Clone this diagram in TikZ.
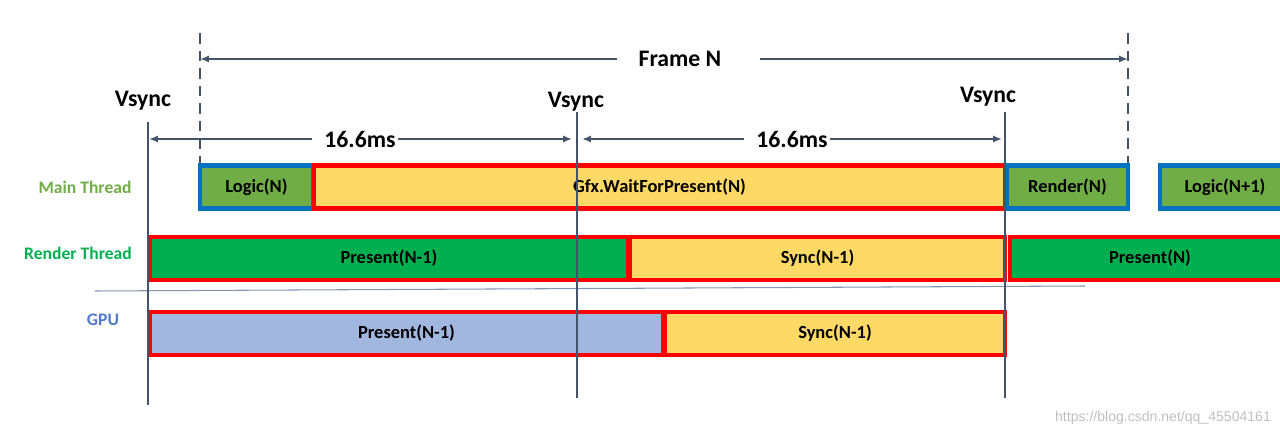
\documentclass[tikz,border=0pt]{standalone}
\usepackage{fontspec}
\setmainfont{Carlito}
\newfontfamily\markfont{Liberation Sans}
\usetikzlibrary{arrows.meta}

\definecolor{mainGreen}{HTML}{70AD47}
\definecolor{renderGreen}{HTML}{00B050}
\definecolor{frameBlue}{HTML}{0070C0}
\definecolor{waitYellow}{HTML}{FFD966}
\definecolor{gpuBlue}{HTML}{A2B7E0}
\definecolor{gpuText}{HTML}{4F7BC8}
\definecolor{lineGray}{HTML}{44546A}
\definecolor{sepGray}{HTML}{8497B0}

\begin{document}
\begin{tikzpicture}[
    x=0.02cm, y=-0.02cm,
    task/.style={rectangle, draw, line width=2.3pt, minimum height=0.86cm, inner sep=0pt, font=\fontsize{10.5}{12}\selectfont\bfseries},
    logic/.style={task, fill=mainGreen, draw=frameBlue},
    wait/.style={task, fill=waitYellow, draw=red},
    present/.style={task, fill=renderGreen, draw=red},
    gpu/.style={task, fill=gpuBlue, draw=red},
    rowlabel/.style={font=\fontsize{10}{12}\selectfont\bfseries},
    bigtext/.style={font=\fontsize{13.5}{16}\selectfont\bfseries, inner sep=1pt},
    tick/.style={draw=lineGray, line width=1.2pt},
    frameline/.style={draw=lineGray, line width=1.2pt, dashed, dash pattern=on 6pt off 4pt},
    dim/.style={-{Latex[length=5pt,width=4pt]}, draw=lineGray, line width=1pt}
]
\useasboundingbox (0,0) rectangle (1280,435);
\clip (0,0) rectangle (1280,435);

% Frame N
\coordinate (d1top) at (200,33);
\coordinate (d1bot) at (200,165);
\coordinate (d2top) at (1128,33);
\coordinate (d2bot) at (1128,165);
\coordinate (d1arr) at (200,59);
\coordinate (d2arr) at (1128,59);
\draw[frameline] (d1top) -- (d1bot);
\draw[frameline] (d2top) -- (d2bot);
\node[bigtext, inner xsep=12pt] (frameN) at (680,59) {Frame N};
\draw[dim] (frameN.west) -- (d1arr);
\draw[dim] ([xshift=10pt]frameN.east) -- (d2arr);

% Vsync labels
\node[bigtext] (vs1) at (143,101) {Vsync};
\node[bigtext] (vs2) at (576,102) {Vsync};
\node[bigtext] (vs3) at (988,97) {Vsync};

% Row labels
\node[rowlabel, text=mainGreen] (mainLbl) at (85,187) {Main Thread};
\node[rowlabel, text=renderGreen] (renderLbl) at (78,253) {Render Thread};
\node[rowlabel, text=gpuText] (gpuLbl) at (103,320) {GPU};

% Main Thread
\node[logic, minimum width=2.26cm] (logicN) at (256.5,187) {Logic(N)};
\node[wait, minimum width=13.82cm] (waitN) at (659.5,187) {Gfx.WaitForPresent(N)};
\node[logic, minimum width=2.42cm] (renderN) at (1067.5,187) {Render(N)};
\node[logic, minimum width=2.6cm] (logicN1) at (1225,187) {Logic(N+1)};

% Render Thread
\node[present, minimum width=9.56cm] (presentRT) at (389,258.5) {Present(N-1)};
\node[wait, minimum width=7.5cm] (syncRT) at (817.5,258.5) {Sync(N-1)};
\node[present, minimum width=5.62cm] (presentN) at (1150,258.5) {Present(N)};

% separator
\coordinate (sepL) at (95,291);
\coordinate (sepR) at (1085,286);
\draw[draw=sepGray, line width=0.6pt] (sepL) -- (sepR);

% GPU
\node[gpu, minimum width=10.26cm] (presentGPU) at (406.5,333.5) {Present(N-1)};
\node[wait, minimum width=6.8cm] (syncGPU) at (835,333.5) {Sync(N-1)};

% Vsync lines
\coordinate (v1top) at (148,122);
\coordinate (v1bot) at (148,405);
\coordinate (v2top) at (577,112);
\coordinate (v2bot) at (577,398);
\coordinate (v3top) at (1005,112);
\coordinate (v3bot) at (1005,398);
\draw[tick] (v1top) -- (v1bot);
\draw[tick] (v2top) -- (v2bot);
\draw[tick] (v3top) -- (v3bot);

% 16.6ms
\coordinate (a1L) at (149,139);
\coordinate (a1R) at (572,139);
\coordinate (a2L) at (582,139);
\coordinate (a2R) at (1002,139);
\node[bigtext] (ms1) at (360,139) {16.6ms};
\node[bigtext] (ms2) at (792,139) {16.6ms};
\draw[dim] ([xshift=-6pt]ms1.west) -- (a1L);
\draw[dim] (ms1.east) -- (a1R);
\draw[dim] ([xshift=-6pt]ms2.west) -- (a2L);
\draw[dim] (ms2.east) -- (a2R);

% watermark
\node[font=\markfont\fontsize{8}{10}\selectfont, text=black!25] (mark) at (1163,418) {https://blog.csdn.net/qq\_45504161};

\end{tikzpicture}
\end{document}
